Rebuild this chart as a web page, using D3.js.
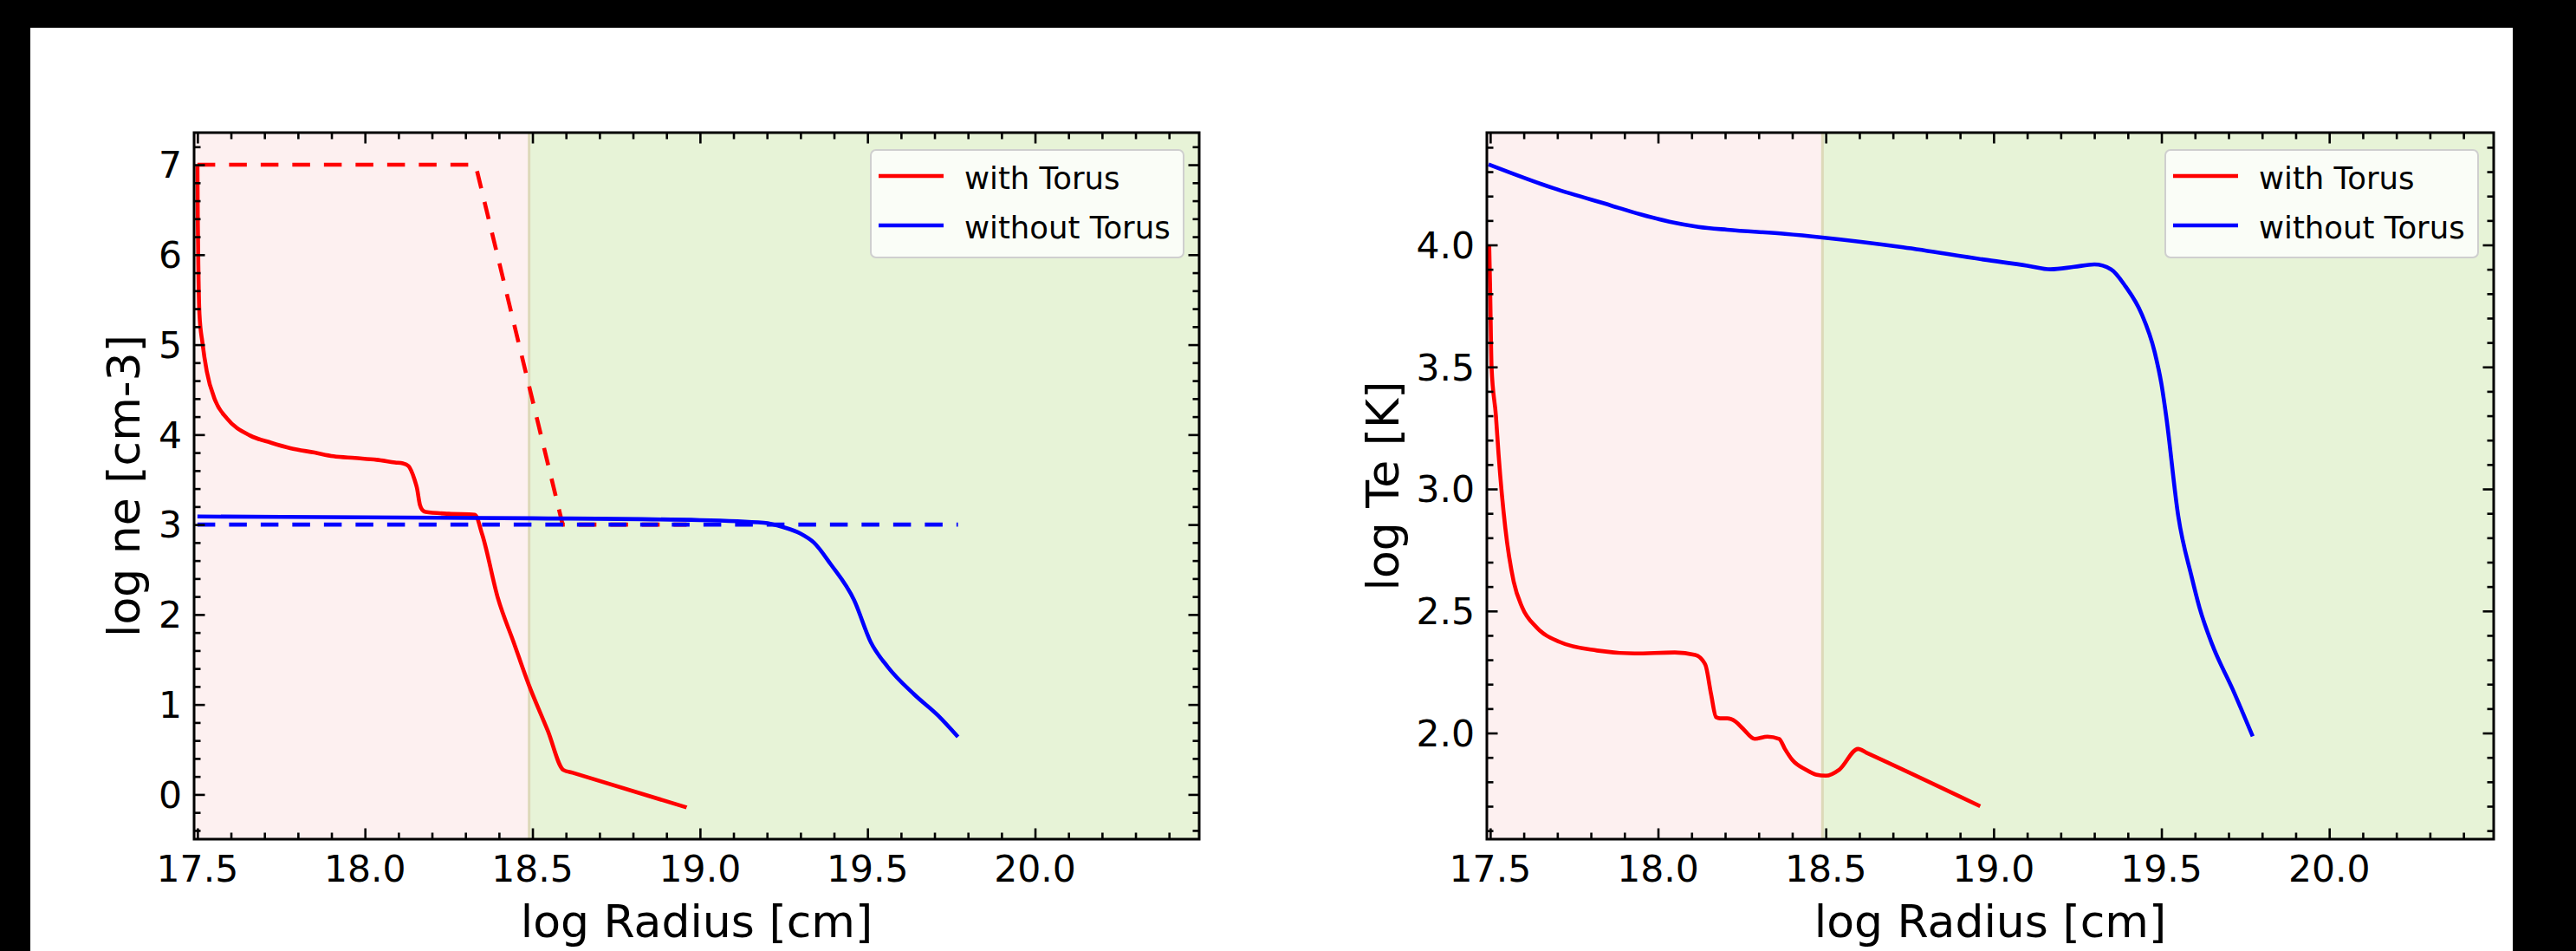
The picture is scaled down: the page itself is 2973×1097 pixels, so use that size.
<!DOCTYPE html>
<html>
<head>
<meta charset="utf-8">
<script src="https://cdn.jsdelivr.net/npm/d3@7"></script>
<style>
  html, body { margin: 0; padding: 0; background: #000; }
  svg { display: block; }
  text { font-family: "DejaVu Sans", sans-serif; fill: #000; }
</style>
</head>
<body>
<svg id="fig" width="2973" height="1097"></svg>
<script>
// ---- data ----
const xTicks = [17.5, 18.0, 18.5, 19.0, 19.5, 20.0]
const neTicks = [0, 1, 2, 3, 4, 5, 6, 7]
const teTicks = [2.0, 2.5, 3.0, 3.5, 4.0]
const seriesNames = ['with Torus', 'without Torus']
const torusEdge = 18.49

// log ne, with torus (solid red)
const neRadiusTorus = [17.500, 17.501, 17.503, 17.506, 17.515, 17.528, 17.553, 17.588, 17.657, 17.72, 17.777, 17.85, 17.906, 17.97, 18.035, 18.09, 18.113, 18.13, 18.138, 18.148, 18.155, 18.164, 18.172, 18.181, 18.25, 18.328, 18.35, 18.397, 18.443, 18.489, 18.546, 18.592, 18.62, 18.96]
const neTorus = [7.0, 6.4, 5.8, 5.34, 5.02, 4.70, 4.38, 4.18, 3.99, 3.91, 3.85, 3.80, 3.76, 3.74, 3.72, 3.69, 3.68, 3.65, 3.60, 3.50, 3.41, 3.22, 3.16, 3.14, 3.12, 3.11, 2.89, 2.18, 1.70, 1.22, 0.706, 0.273, 0.241, -0.144]
// log ne, with torus, input profile (dashed red)
const neInRadiusTorus = [17.5, 18.33, 18.59, 18.96]
const neInTorus = [7.0, 7.0, 3.0, 3.0]
// log ne, without torus (solid blue)
const neRadiusNoTorus = [17.5, 18.0, 18.5, 19.0, 19.19, 19.25, 19.30, 19.34, 19.39, 19.46, 19.51, 19.56, 19.64, 19.71, 19.77]
const neNoTorus = [3.09, 3.08, 3.07, 3.05, 3.02, 2.97, 2.90, 2.80, 2.56, 2.16, 1.69, 1.42, 1.11, 0.88, 0.64]
// log ne, without torus, input profile (dashed blue)
const neInRadiusNoTorus = [17.5, 19.77]
const neInNoTorus = [3.0, 3.0]

// log Te, with torus
const teRadiusTorus = [17.497, 17.50, 17.504, 17.517, 17.525, 17.545, 17.57, 17.595, 17.638, 17.707, 17.818, 17.93, 18.05, 18.111, 18.141, 18.158, 18.173, 18.185, 18.206, 18.231, 18.253, 18.288, 18.326, 18.361, 18.378, 18.40, 18.44, 18.47, 18.50, 18.54, 18.596, 18.62, 18.96]
const teTorus = [4.0, 3.8, 3.5, 3.30, 3.14, 2.84, 2.62, 2.516, 2.433, 2.373, 2.338, 2.326, 2.33, 2.32, 2.28, 2.16, 2.065, 2.06, 2.06, 2.047, 2.018, 1.976, 1.985, 1.976, 1.935, 1.89, 1.85, 1.83, 1.825, 1.85, 1.935, 1.92, 1.70]
// log Te, without torus
const teRadiusNoTorus = [17.495, 17.689, 17.861, 17.948, 18.034, 18.12, 18.206, 18.378, 18.49, 18.73, 18.97, 19.10, 19.17, 19.24, 19.30, 19.35, 19.393, 19.44, 19.48, 19.50, 19.514, 19.55, 19.59, 19.613, 19.652, 19.712, 19.772]
const teNoTorus = [4.33, 4.232, 4.161, 4.125, 4.095, 4.074, 4.062, 4.045, 4.03, 3.99, 3.94, 3.915, 3.90, 3.91, 3.92, 3.90, 3.83, 3.72, 3.56, 3.43, 3.30, 2.89, 2.64, 2.516, 2.36, 2.18, 1.986]

const zip = (xs, ys) => xs.map((x, i) => ({ x: x, y: ys[i] }))

const svg = d3.select('#fig')
// page frame: white figure area inside black border
svg.append('rect')
  .attr('x', 35).attr('y', 32)
  .attr('width', 2900 - 35).attr('height', 1097 - 32)
  .attr('fill', '#fff')

function label (g, x, y, str, size, anchor, rotate) {
  return g.append('text')
    .attr('transform', `translate(${x},${y})` + (rotate ? ` rotate(${rotate})` : ''))
    .attr('font-size', size)
    .attr('text-anchor', anchor)
    .text(str)
}

function drawPanel (opt) {
  let left = opt.left
  let right = opt.right
  let top = 153
  let bottom = 968
  let xDom = [17.49, 20.49]

  let x = d3.scaleLinear().domain(xDom).range([left, right])
  let y = d3.scaleLinear().domain(opt.yDomain).range([bottom, top])

  let g = svg.append('g')

  // shaded regions
  g.append('rect')
    .attr('x', x(xDom[0])).attr('y', top)
    .attr('width', x(torusEdge) - x(xDom[0])).attr('height', bottom - top)
    .attr('fill', '#fdf0f0')
  g.append('rect')
    .attr('x', x(torusEdge)).attr('y', top)
    .attr('width', x(xDom[1]) - x(torusEdge)).attr('height', bottom - top)
    .attr('fill', '#e7f3d7')
  g.append('line')
    .attr('x1', x(torusEdge)).attr('x2', x(torusEdge))
    .attr('y1', top).attr('y2', bottom)
    .attr('stroke', '#ddd9b9').attr('stroke-width', 3)

  opt.series.forEach(s => {
    let line = d3.line()
      .x(d => x(d.x))
      .y(d => y(d.y))
      .curve(s.dashed ? d3.curveLinear : d3.curveMonotoneX)
    g.append('path')
      .datum(zip(s.xs, s.ys))
      .attr('d', line)
      .attr('fill', 'none')
      .attr('stroke', s.color)
      .attr('stroke-width', 4.6)
      .attr('stroke-linejoin', 'round')
      .attr('stroke-dasharray', s.dashed ? '20.5 16' : null)
  })

  // ticks, all four sides, pointing inward
  let inX = v => v > xDom[0] && v < xDom[1]
  let inY = v => v > opt.yDomain[0] && v < opt.yDomain[1]
  let xMinor = d3.range(174, 205).map(v => v / 10).filter(inX)
    .filter(v => !xTicks.some(t => Math.abs(t - v) < 1e-6))
  let yMinor = opt.yMinor.filter(inY)
    .filter(v => !opt.yTicks.some(t => Math.abs(t - v) < 1e-6))
  let axes = [
    { a: d3.axisBottom(x), t: `translate(0,${bottom})`, vals: xTicks, minor: xMinor },
    { a: d3.axisTop(x), t: `translate(0,${top})`, vals: xTicks, minor: xMinor },
    { a: d3.axisLeft(y), t: `translate(${left},0)`, vals: opt.yTicks, minor: yMinor },
    { a: d3.axisRight(y), t: `translate(${right},0)`, vals: opt.yTicks, minor: yMinor }
  ]
  axes.forEach(ax => {
    let maj = g.append('g').attr('transform', ax.t)
      .call(ax.a.tickValues(ax.vals).tickSize(-12.5).tickFormat(''))
    let mnr = g.append('g').attr('transform', ax.t)
      .call(ax.a.tickValues(ax.minor).tickSize(-7.5).tickFormat(''))
    ;[maj, mnr].forEach(s => {
      s.select('.domain').remove()
      s.selectAll('line').attr('stroke', '#000').attr('stroke-width', 2.6)
    })
  })

  // frame
  g.append('rect')
    .attr('x', left).attr('y', top)
    .attr('width', right - left).attr('height', bottom - top)
    .attr('fill', 'none').attr('stroke', '#000').attr('stroke-width', 3)

  // tick labels
  let fmtX = d3.format('.1f')
  xTicks.forEach(v => {
    label(g, x(v), 1017, fmtX(v), 42.5, 'middle')
  })
  opt.yTicks.forEach(v => {
    label(g, left - 14, y(v) + 15.3, opt.yFormat(v), 42.5, 'end')
  })

  // axis titles
  label(g, (left + right) / 2, 1081, 'log Radius [cm]', 52, 'middle')
  label(g, opt.yLabelX, (top + bottom) / 2, opt.yLabel, 52, 'middle', -90)

  // legend
  let lx = right - 18 - 361
  let ly = 173
  g.append('rect')
    .attr('x', lx).attr('y', ly)
    .attr('width', 361).attr('height', 124)
    .attr('rx', 6)
    .attr('fill', '#fff').attr('fill-opacity', 0.8)
    .attr('stroke', '#cfcfcf').attr('stroke-width', 2)
  let legendColors = ['#ff0000', '#0000ff']
  seriesNames.forEach((name, i) => {
    let yy = ly + 30 + i * 57
    g.append('line')
      .attr('x1', lx + 9).attr('x2', lx + 84)
      .attr('y1', yy).attr('y2', yy)
      .attr('stroke', legendColors[i]).attr('stroke-width', 4.6)
    label(g, lx + 108, yy + 14.5, name, 35.5, 'start')
  })
}

drawPanel({
  left: 224,
  right: 1384,
  yDomain: [-0.497, 7.357],
  yTicks: neTicks,
  yMinor: d3.range(-4, 37).map(v => v / 5),
  yFormat: d3.format('d'),
  yLabel: 'log ne [cm-3]',
  yLabelX: 161,
  series: [
    { xs: neInRadiusTorus, ys: neInTorus, color: '#ff0000', dashed: true },
    { xs: neInRadiusNoTorus, ys: neInNoTorus, color: '#0000ff', dashed: true },
    { xs: neRadiusTorus, ys: neTorus, color: '#ff0000' },
    { xs: neRadiusNoTorus, ys: neNoTorus, color: '#0000ff' }
  ]
})

drawPanel({
  left: 1716,
  right: 2878,
  yDomain: [1.565, 4.46],
  yTicks: teTicks,
  yMinor: d3.range(16, 45).map(v => v / 10),
  yFormat: d3.format('.1f'),
  yLabel: 'log Te [K]',
  yLabelX: 1614,
  series: [
    { xs: teRadiusTorus, ys: teTorus, color: '#ff0000' },
    { xs: teRadiusNoTorus, ys: teNoTorus, color: '#0000ff' }
  ]
})
</script>
</body>
</html>
